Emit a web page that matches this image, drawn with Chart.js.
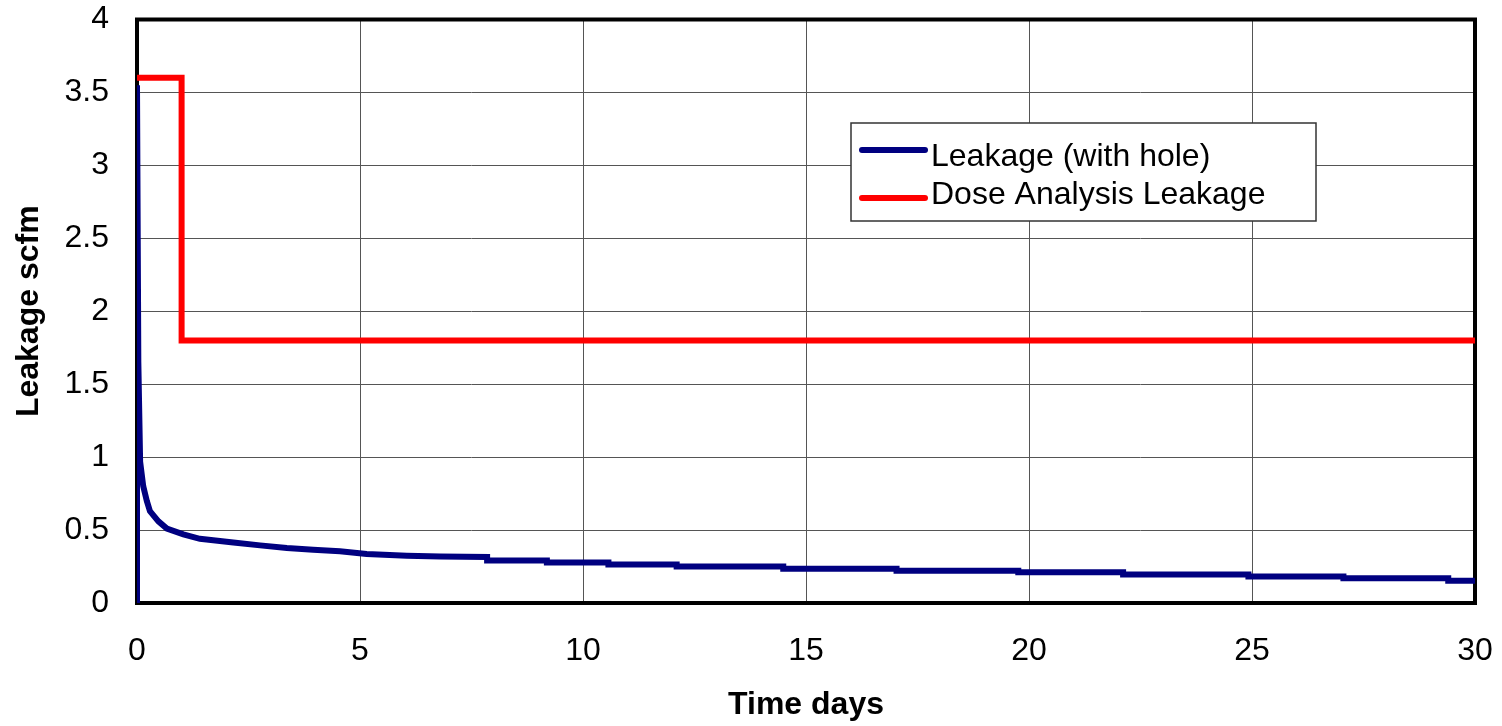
<!DOCTYPE html>
<html>
<head>
<meta charset="utf-8">
<script src="https://cdn.jsdelivr.net/npm/chart.js@4.4.1/dist/chart.umd.min.js"></script>
<style>
html,body{margin:0;padding:0;background:#fff;}
canvas{display:block;}
</style>
</head>
<body>
<canvas id="c" width="1502" height="726"></canvas>
<script>
// ---- data ----
const seriesNames = ['Leakage (with hole)', 'Dose Analysis Leakage'];
const leakTime = [0, 0, 0.03, 0.07, 0.14, 0.22, 0.29, 0.48, 0.67, 1.04, 1.41, 2.16, 2.76, 3.36, 3.95, 4.55, 5.15, 6.05, 6.8,
  7.85, 7.85, 9.19, 9.19, 10.57, 10.57, 12.10, 12.10, 14.49, 14.49, 17.03, 17.03, 19.76, 19.76, 22.11, 22.11,
  24.92, 24.92, 27.05, 27.05, 29.40, 29.40, 30];
const leakValue = [0, 3.55, 1.65, 0.97, 0.80, 0.70, 0.63, 0.56, 0.51, 0.47, 0.44, 0.415, 0.395, 0.377, 0.365, 0.354, 0.336, 0.324, 0.318,
  0.315, 0.292, 0.292, 0.278, 0.278, 0.264, 0.264, 0.251, 0.251, 0.235, 0.235, 0.221, 0.221, 0.21, 0.21, 0.196,
  0.196, 0.182, 0.182, 0.169, 0.169, 0.153, 0.153];
const doseTime = [0, 1, 1, 30];
const doseValue = [3.6, 3.6, 1.8, 1.8];
const xTickLabels = ['0', '5', '10', '15', '20', '25', '30'];
const yTickLabels = ['0', '0.5', '1', '1.5', '2', '2.5', '3', '3.5', '4'];
const colors = ['#000080', '#ff0000'];

const toPts = (xs, ys) => xs.map((x, i) => ({x: x, y: ys[i]}));
const FONT = "'Liberation Sans', Arial, sans-serif";
const TARGET = {left: 137, top: 19.5, right: 1475, bottom: 603};

const framePlugin = {
  id: 'frame',
  beforeDatasetsDraw(chart) {
    const {ctx, chartArea: a} = chart;
    ctx.save();
    ctx.strokeStyle = '#000';
    ctx.lineWidth = 4;
    ctx.strokeRect(a.left, a.top, a.right - a.left, a.bottom - a.top);
    ctx.restore();
  }
};

const legendPlugin = {
  id: 'boxLegend',
  afterDraw(chart) {
    const ctx = chart.ctx;
    ctx.save();
    ctx.fillStyle = '#fff';
    ctx.fillRect(851, 123, 465, 98);
    ctx.strokeStyle = '#333';
    ctx.lineWidth = 1.5;
    ctx.strokeRect(851, 123, 465, 98);
    const rows = [150, 198];
    const bases = [166, 204];
    ctx.font = '32px ' + FONT;
    ctx.textBaseline = 'alphabetic';
    ctx.textAlign = 'left';
    seriesNames.forEach((name, i) => {
      ctx.strokeStyle = colors[i];
      ctx.lineWidth = 6;
      ctx.lineCap = 'round';
      ctx.beginPath();
      ctx.moveTo(862, rows[i]);
      ctx.lineTo(925, rows[i]);
      ctx.stroke();
      ctx.fillStyle = '#000';
      ctx.fillText(name, 931, bases[i]);
    });
    ctx.restore();
  }
};

const pad = {top: 19.5, right: 27, left: 0, bottom: 0};

const chart = new Chart(document.getElementById('c'), {
  type: 'line',
  data: {
    datasets: [
      {label: seriesNames[0], data: toPts(leakTime, leakValue), borderColor: colors[0], borderWidth: 6, pointRadius: 0, tension: 0, fill: false},
      {label: seriesNames[1], data: toPts(doseTime, doseValue), borderColor: colors[1], borderWidth: 6, pointRadius: 0, tension: 0, fill: false}
    ]
  },
  options: {
    responsive: false,
    animation: false,
    layout: {padding: pad},
    plugins: {legend: {display: false}, tooltip: {enabled: false}},
    scales: {
      x: {
        type: 'linear', min: 0, max: 30,
        afterFit(s) { s.height = 123; s.paddingLeft = 0; s.paddingRight = 0; },
        border: {display: false},
        grid: {color: '#555', lineWidth: 1, drawTicks: false},
        ticks: {stepSize: 5, padding: 29, color: '#000', font: {family: FONT, size: 32},
          callback: (v, i) => xTickLabels[i]},
        title: {display: true, text: 'Time days', color: '#000', font: {family: FONT, size: 32, weight: 'bold'}, padding: {top: 0, bottom: 2}}
      },
      y: {
        type: 'linear', min: 0, max: 4,
        afterFit(s) { s.width = 137; s.paddingTop = 0; s.paddingBottom = 0; },
        border: {display: false},
        grid: {color: '#555', lineWidth: 1, drawTicks: false},
        ticks: {stepSize: 0.5, padding: 28, color: '#000', font: {family: FONT, size: 32},
          callback: (v, i) => yTickLabels[i]},
        title: {display: true, text: 'Leakage scfm', color: '#000', font: {family: FONT, size: 32, weight: 'bold'}, padding: {top: 10, bottom: 0}}
      }
    }
  },
  plugins: [framePlugin, legendPlugin]
});

// correct layout so that the plot area lands where the reference has it
for (let k = 0; k < 3; k++) {
  const a = chart.chartArea;
  const dTop = a.top - TARGET.top;
  const dRight = TARGET.right - a.right;
  if (Math.abs(dTop) < 0.3 && Math.abs(dRight) < 0.3) break;
  pad.top = Math.max(0, pad.top - dTop);
  pad.right = Math.max(0, pad.right - dRight);
  chart.options.layout.padding = {top: pad.top, right: pad.right, left: pad.left, bottom: pad.bottom};
  chart.update();
}
</script>
</body>
</html>
